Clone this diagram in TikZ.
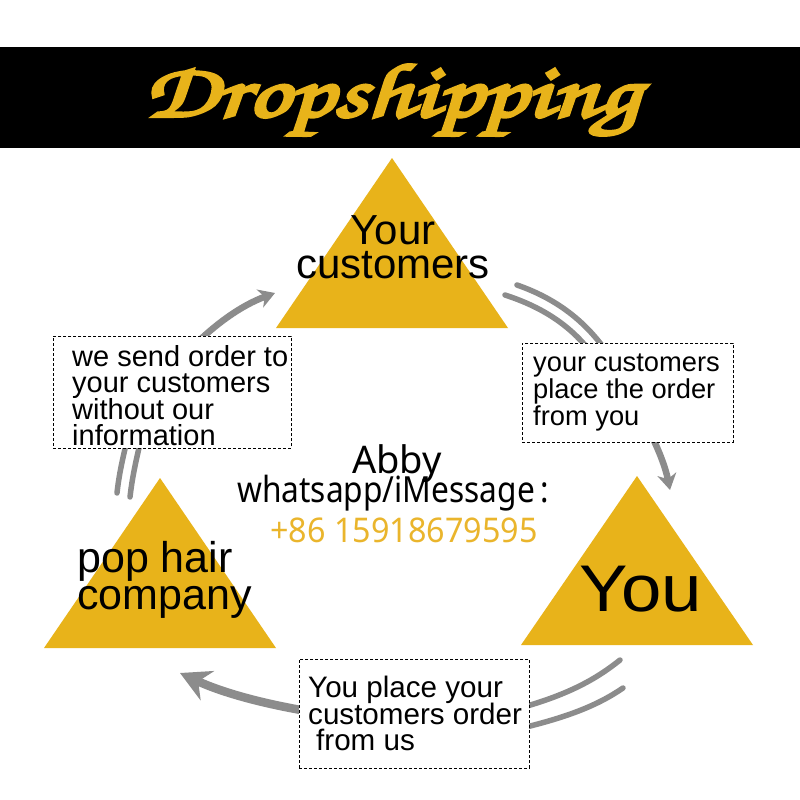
\documentclass[tikz,border=0pt]{standalone}
\usepackage{fontspec}
\usepackage{graphicx}
\setmainfont{Liberation Sans}
\newfontfamily\contactfont{Noto Sans}
\usetikzlibrary{arrows.meta, positioning}
\definecolor{gold}{HTML}{E8B31A}
\definecolor{phonegold}{HTML}{EAB52C}
\definecolor{flowgray}{HTML}{8C8C8C}
\tikzset{
  tri/.style    = {fill=gold},
  note/.style   = {draw, dash pattern=on 3pt off 2pt, line width=0.8pt, fill=white,
                   inner sep=0pt, anchor=north west},
  ntext/.style  = {align=left, inner sep=0pt},
  big/.style    = {inner sep=0pt},
  streak/.style = {draw=flowgray, line width=5.5pt, line cap=round},
  flow/.style   = {draw=flowgray, line width=6.5pt, -{Stealth[length=16pt, width=19pt, inset=5pt]}},
  bigflow/.style= {draw=flowgray, line width=8.5pt, -{Stealth[length=30pt, width=32pt, inset=10pt]}},
}
\newcommand{\tight}{\lineskiplimit=-20pt}
\newcommand{\titlefont}{\fontencoding{T1}\fontfamily{pzc}\fontseries{mb}\fontshape{it}\fontsize{60}{60}\selectfont}
% heavy brush: fill and stroke the glyphs
\newcommand{\brush}[1]{\special{pdf:literal direct 2 Tr 2.4 w}#1\special{pdf:literal direct 0 Tr}}

\begin{document}
\begin{tikzpicture}[x=1pt, y=-1pt]
  \useasboundingbox[fill=white] (0,0) rectangle (800,800);
  % ---- title band
  \fill[black] (0,47) rectangle (800,148);
  \node[big, text=gold] (title) at (392,101)
    {\resizebox*{495pt}{78pt}{\titlefont\brush{Dropshipping}}};
  % ---- the three parties
  \fill[tri] (392,158) -- (508,328) -- (276,328) -- cycle;
  \fill[tri] (160,478) -- (276,648) -- (44,648) -- cycle;
  \fill[tri] (637,476) -- (753,645) -- (521,645) -- cycle;
  \node[big, align=center, font=\fontsize{42}{34}\selectfont] (cust) at (393,247) {Your\\customers};
  \node[big, align=left, anchor=west, font=\fontsize{43}{37}\selectfont] (pop) at (77,580) {pop hair\\company};
  \node[big, font=\fontsize{66}{70}\selectfont] (you) at (641,589) {\scalebox{1.1}[1]{You}};
  % ---- arrows (tails split in two, run under the notes)
  \coordinate (c1) at (610,370);
  \coordinate (c1h) at (670,490);
  \draw[streak] (517,285) .. controls (560,300) and (590,325) .. (612,360);
  \draw[streak] (505,295) .. controls (545,308) and (575,328) .. (598,362);
  \draw[flow] (c1) .. controls (635,400) and (662,450) .. (c1h);
  \coordinate (c2) at (500,722);
  \coordinate (c2h) at (180,673);
  \draw[streak] (620,660) .. controls (595,680) and (565,697) .. (505,712);
  \draw[streak] (623,688) .. controls (598,705) and (568,718) .. (505,732);
  \draw[bigflow] (c2) .. controls (400,730) and (260,710) .. (c2h);
  \coordinate (c3) at (140,420);
  \coordinate (c3h) at (275,293);
  \draw[streak] (117,493) .. controls (119,475) and (122,460) .. (132,420);
  \draw[streak] (130,497) .. controls (132,480) and (135,462) .. (146,420);
  \draw[flow] (c3) .. controls (160,375) and (215,315) .. (c3h);
  % ---- notes
  \node[note, minimum width=211pt, minimum height=99pt] (rbox) at (522,343) {};
  \node[ntext, font=\fontsize{27.3}{27}\selectfont\tight, right=11pt of rbox.west] (rtext)
    {your customers\\place the order\\from you};
  \node[note, minimum width=238pt, minimum height=112pt] (lbox) at (53,336) {};
  \node[ntext, font=\fontsize{29}{26.5}\selectfont\tight, right=19pt of lbox.west, yshift=-3pt] (ltext)
    {we send order to\\your customers\\without our\\information};
  \node[note, minimum width=230pt, minimum height=109pt] (bbox) at (299,659) {};
  \node[ntext, font=\fontsize{29.6}{26.5}\selectfont\tight, right=9pt of bbox.west] (btext)
    {You place your\\customers order\\\hspace*{8pt}from us};
  % ---- contact
  \node[big, anchor=base, font=\contactfont\fontsize{38}{40}\selectfont] (abby) at (397,473) {Abby};
  \node[big, anchor=base, font=\contactfont\fontsize{36}{40}\selectfont] (app) at (393,502)
    {\scalebox{0.88}[1]{whatsapp/iMessage\,:}};
  \node[big, anchor=base, text=phonegold, font=\contactfont\fontsize{34}{40}\selectfont] (tel) at (404,542)
    {\scalebox{0.95}[1]{+86 15918679595}};
\end{tikzpicture}
\end{document}
